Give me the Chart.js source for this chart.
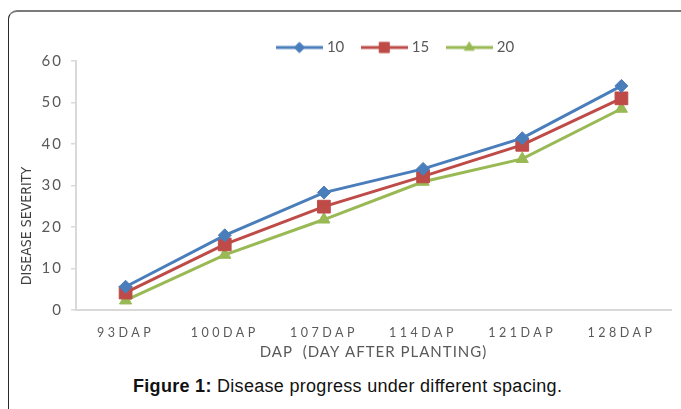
<!DOCTYPE html>
<html>
<head>
<meta charset="utf-8">
<script src="https://cdn.jsdelivr.net/npm/chart.js@4.4.0/dist/chart.umd.min.js"></script>
<style>
  html, body { margin: 0; padding: 0; background: #fff; }
  body { width: 681px; height: 409px; position: relative; overflow: hidden; }
  .frame {
    position: absolute; left: 8px; top: 10px; width: 700px; height: 420px;
    border-top: 2px solid #7a7a7a; border-left: 1.5px solid #2a2a2a;
    border-top-left-radius: 9px;
  }
  #chart { position: absolute; left: 0; top: 0; }
  .caption {
    position: absolute; left: 133px; top: 376px; line-height: 20px;
    font-family: "Liberation Sans", Arial, sans-serif; font-size: 18px; color: #111;
    letter-spacing: 0.3px; white-space: nowrap;
  }
</style>
</head>
<body>
<div class="frame"></div>
<canvas id="chart" width="681" height="368"></canvas>
<div class="caption"><b>Figure 1:</b> Disease progress under different spacing.</div>
<script>
const chartCtx = document.getElementById("chart");

const dapLabels = ["93DAP", "100DAP", "107DAP", "114DAP", "121DAP", "128DAP"];
const yTicks = [0, 10, 20, 30, 40, 50, 60];

const spacing10 = [5.6, 18.0, 28.3, 34.0, 41.4, 54.0];
const spacing15 = [4.2, 15.8, 24.9, 32.2, 39.8, 51.0];
const spacing20 = [2.3, 13.3, 21.8, 30.9, 36.4, 48.5];

const series = [
  { label: "10", data: spacing10, color: "#4a7ebb", style: "rectRot", radius: 6.5 },
  { label: "15", data: spacing15, color: "#be4b48", style: "rect", radius: 9 },
  { label: "20", data: spacing20, color: "#98b954", style: "triangle", radius: 7 },
];

const textGray = "#595959";
const axisGray = "#d9d9d9";

// Legend sprite: short line with the marker in the middle, like Excel.
const legendSprite = (s) => {
  const c = document.createElement("canvas");
  c.width = 47;
  c.height = 18;
  const g = c.getContext("2d");
  g.strokeStyle = s.color;
  g.lineWidth = 3;
  g.beginPath();
  g.moveTo(0, 9);
  g.lineTo(47, 9);
  g.stroke();
  g.fillStyle = s.color;
  g.strokeStyle = s.color;
  g.lineWidth = 1;
  Chart.helpers.drawPoint(g, { pointStyle: s.style, radius: s.radius * 0.8, rotation: 0, borderWidth: 1 }, 23.5, 9);
  return c;
};

// Wrap one of a scale's draw methods so its text gets letter spacing.
const spaceText = (scale, method, px) => {
  const flag = "_spaced_" + method;
  if (!scale || scale[flag]) return;
  const orig = scale[method].bind(scale);
  scale[method] = (...args) => {
    const ctx = scale.ctx;
    ctx.save();
    ctx.letterSpacing = px;
    orig(...args);
    ctx.restore();
  };
  scale[flag] = true;
};

const layoutTweaks = {
  id: "layoutTweaks",
  beforeLayout(chart) {
    const lg = chart.legend;
    if (lg && !lg._patched) {
      const fit = lg.fit.bind(lg);
      lg.fit = function () {
        fit();
        this.height = 41;
      };
      lg._patched = true;
    }
  },
  afterLayout(chart) {
    const lg = chart.legend;
    if (lg) {
      lg.left += 58;
      lg.right += 58;
    }
  },
  beforeDraw(chart) {
    spaceText(chart.scales.x, "drawLabels", "3.5px");
    spaceText(chart.scales.x, "drawTitle", "1px");
    spaceText(chart.scales.y, "drawLabels", "2px");
  },
  afterDraw(chart) {
    const ctx = chart.ctx;
    ctx.save();
    ctx.translate(27, 226);
    ctx.rotate(-Math.PI / 2);
    ctx.font = '14px "Liberation Sans Narrow", "DejaVu Sans Condensed", sans-serif';
    ctx.fillStyle = "#404040";
    ctx.textAlign = "center";
    ctx.textBaseline = "middle";
    ctx.fillText("DISEASE SEVERITY", 0, 0);
    ctx.restore();
  },
};

new Chart(chartCtx, {
  type: "line",
  data: {
    labels: dapLabels,
    datasets: series.map((s) => ({
      label: s.label,
      data: s.data,
      borderColor: s.color,
      backgroundColor: s.color,
      borderWidth: 3,
      tension: 0,
      pointStyle: s.style,
      pointRadius: s.radius,
      pointBorderWidth: 1,
      pointBackgroundColor: s.color,
      pointBorderColor: s.color,
    })),
  },
  options: {
    responsive: false,
    animation: false,
    layout: { padding: { top: 20, left: 0, right: 3.5, bottom: 0 } },
    plugins: {
      legend: {
        position: "top",
        labels: {
          color: textGray,
          font: { family: "Lato", size: 15 },
          usePointStyle: true,
          pointStyleWidth: 40,
          padding: 20,
          generateLabels: (chart) =>
            series.map((s, i) => ({
              text: s.label,
              pointStyle: legendSprite(s),
              fillStyle: s.color,
              strokeStyle: s.color,
              fontColor: textGray,
              lineWidth: 0,
              hidden: !chart.isDatasetVisible(i),
              datasetIndex: i,
            })),
        },
      },
      tooltip: { enabled: false },
    },
    scales: {
      x: {
        afterFit: (s) => { s.height = 58; },
        offset: true,
        grid: { display: false },
        border: { display: true, color: axisGray, width: 2 },
        ticks: {
          color: textGray,
          font: { family: "Lato", size: 12.5 },
          padding: 7,
          maxRotation: 0,
        },
        title: {
          display: true,
          text: "DAP  (DAY AFTER PLANTING)",
          color: textGray,
          font: { family: "Lato", size: 15 },
          padding: { top: 0, bottom: 7 },
        },
      },
      y: {
        afterFit: (s) => { s.width = 76; },
        min: yTicks[0],
        max: yTicks[yTicks.length - 1],
        afterBuildTicks: (s) => { s.ticks = yTicks.map((v) => ({ value: v })); },
        grid: { drawOnChartArea: false, drawTicks: true, tickLength: 5, color: axisGray, lineWidth: 1.5 },
        border: { display: true, color: axisGray, width: 2 },
        ticks: {
          color: textGray,
          font: { family: "Lato", size: 15 },
          padding: 8,
        },
      },
    },
  },
  plugins: [layoutTweaks],
});
</script>
</body>
</html>
